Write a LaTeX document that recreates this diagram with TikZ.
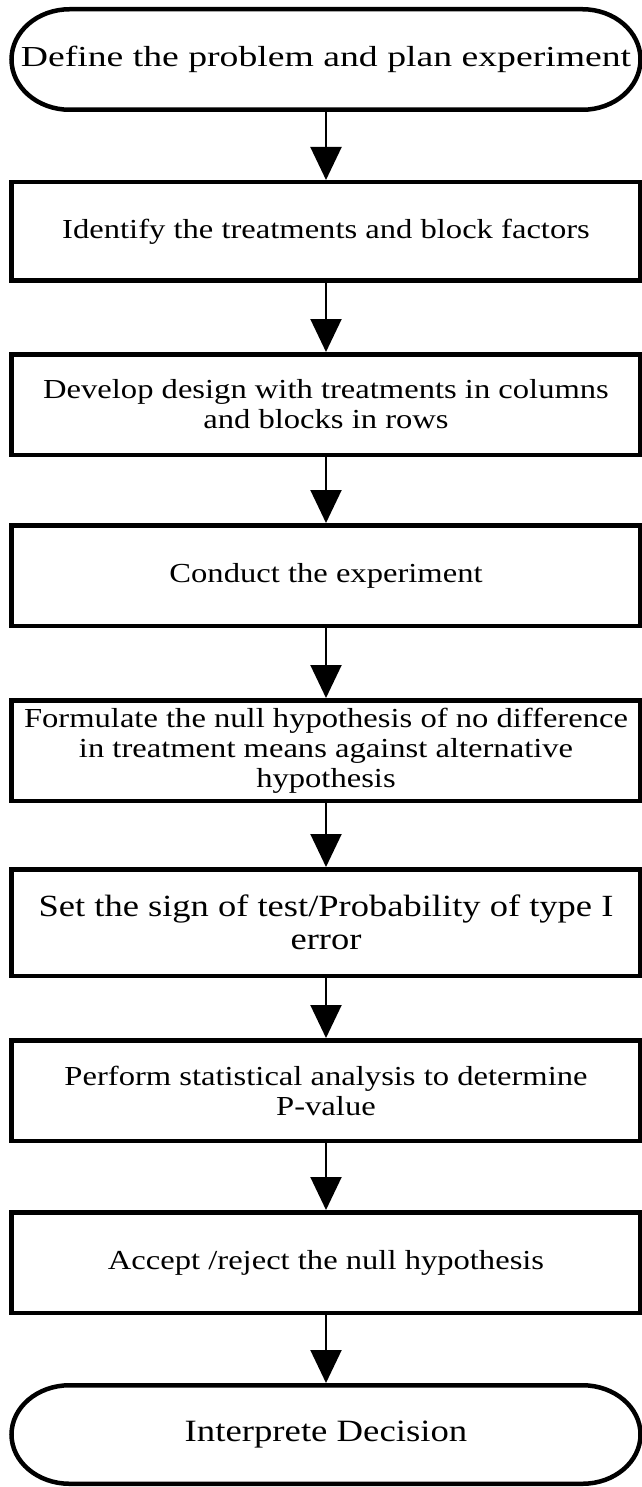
\documentclass[tikz,border=0pt]{standalone}
\usepackage{fontspec}
\setmainfont{Liberation Serif}
\newfontfamily\boxfont[FakeStretch=1.185]{Liberation Serif}
\newfontfamily\topfont[FakeStretch=1.3]{Liberation Serif}
\usetikzlibrary{arrows.meta}
\begin{document}
\begin{tikzpicture}[x=1pt,y=1pt,
  stepbox/.style={draw=black,line width=4.5pt,rectangle,minimum width=629pt,inner sep=0pt,align=center,font=\boxfont\fontsize{27.5}{30}\selectfont},
  termbox/.style={draw=none,rectangle,minimum width=629pt,inner sep=0pt,outer sep=2.25pt,align=center},
  termline/.style={draw=black,line width=4.5pt},
  flow/.style={draw=black,line width=2pt,-{Triangle[length=33pt,width=31pt]}}]
\useasboundingbox[fill=white] (0,0) rectangle (641,-1487);

\node[termbox,minimum height=100.5pt,font=\topfont\fontsize{29}{33}\selectfont] (t1) at (326,-59.5) {Define the problem and plan experiment};
\node[stepbox,minimum height=98.5pt] (b1) at (326,-231.5) {Identify the treatments and block factors};
\node[stepbox,minimum height=100.5pt] (b2) at (326,-404.5) {Develop design with treatments in columns\\and blocks in rows};
\node[stepbox,minimum height=100.5pt] (b3) at (326,-575.5) {Conduct the experiment};
\node[stepbox,minimum height=100.5pt] (b4) at (326,-750.5) {Formulate the null hypothesis of no difference\\in treatment means against alternative\\hypothesis};
\node[stepbox,minimum height=106.5pt,font=\boxfont\fontsize{30.8}{33}\selectfont] (b5) at (326,-922.5) {Set the sign of test/Probability of type I\\error};
\node[stepbox,minimum height=100.5pt] (b6) at (326,-1090.5) {Perform statistical analysis to determine\\P-value};
\node[stepbox,minimum height=100.5pt] (b7) at (326,-1262.5) {Accept /reject the null hypothesis};
\node[termbox,minimum height=98.5pt,font=\boxfont\fontsize{31}{35}\selectfont] (t2) at (326,-1434.5) {Interprete Decision};

% terminal outlines
\draw[termline] ([xshift=-256.5pt,yshift=50.25pt]t1.center) -- ++(513pt,0pt)
  arc[start angle=90,end angle=-90,x radius=58pt,y radius=50.25pt] -- ++(-513pt,0pt)
  arc[start angle=270,end angle=90,x radius=58pt,y radius=50.25pt] -- cycle;
\draw[termline] ([xshift=-256.5pt,yshift=49.25pt]t2.center) -- ++(513pt,0pt)
  arc[start angle=90,end angle=-90,x radius=58pt,y radius=49.25pt] -- ++(-513pt,0pt)
  arc[start angle=270,end angle=90,x radius=58pt,y radius=49.25pt] -- cycle;

\draw[flow] (t1.south) -- (b1.north);
\draw[flow] (b1.south) -- (b2.north);
\draw[flow] (b2.south) -- (b3.north);
\draw[flow] (b3.south) -- (b4.north);
\draw[flow] (b4.south) -- (b5.north);
\draw[flow] (b5.south) -- (b6.north);
\draw[flow] (b6.south) -- (b7.north);
\draw[flow] (b7.south) -- (t2.north);
\end{tikzpicture}
\end{document}
